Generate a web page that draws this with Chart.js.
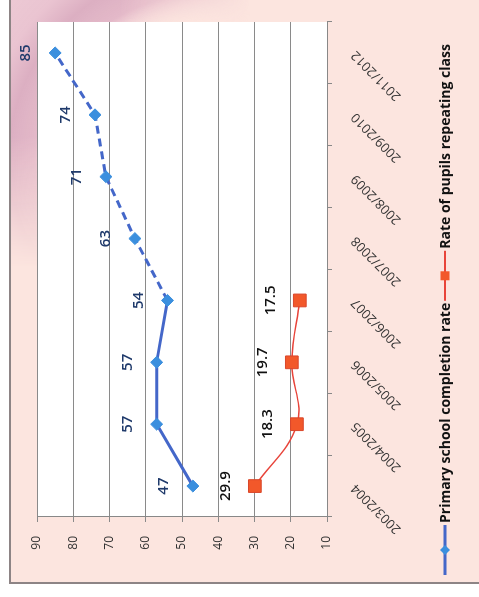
<!DOCTYPE html>
<html>
<head>
<meta charset="utf-8">
<script src="https://cdn.jsdelivr.net/npm/chart.js@4"></script>
<style>
html, body { margin: 0; padding: 0; background: #fff; overflow: hidden; }
#wrap { position: absolute; left: 0; top: 0; width: 597px; height: 479px;
  transform-origin: 0 0; transform: translateY(597px) rotate(-90deg); }
</style>
</head>
<body>
<div id="wrap"><canvas id="chart" width="597" height="479"></canvas></div>
<script>
// school years (2010/2011 is not in the source chart)
const years = ['2003/2004', '2004/2005', '2005/2006', '2006/2007', '2007/2008', '2008/2009', '2009/2010', '2011/2012']
const completionRate = [47, 57, 57, 54, 63, 71, 74, 85]
const repeatingRate = [29.9, 18.3, 19.7, 17.5, null, null, null, null]
const valueTicks = [10, 20, 30, 40, 50, 60, 70, 80, 90]
const seriesNames = ['Primary school completion rate', 'Rate of pupils repeating class']

const labelColors = ['#1f3a6b', '#111']
const FONT = '"Open Sans", Lato, sans-serif'

// pink panel, ring decoration and white plot area
const backdrop = {
  id: 'backdrop',
  beforeDraw(chart) {
    const ctx = chart.ctx, a = chart.chartArea
    const W = chart.width, H = chart.height
    ctx.save()
    ctx.fillStyle = '#fff'
    ctx.fillRect(0, 0, W, H)
    ctx.fillStyle = '#fce5df'
    ctx.fillRect(14, 10, W, H)

    // ring drawn offscreen and masked so it fades out
    const off = document.createElement('canvas')
    off.width = W; off.height = H
    const o = off.getContext('2d')
    const g = o.createRadialGradient(437, 200, 0, 437, 200, 330)
    g.addColorStop(0, 'rgba(240,205,215,0)')
    g.addColorStop(0.42, 'rgba(240,205,215,0)')
    g.addColorStop(0.5, 'rgba(226,182,199,0.95)')
    g.addColorStop(0.58, 'rgba(220,175,194,1)')
    g.addColorStop(0.66, 'rgba(234,196,209,1)')
    g.addColorStop(1, 'rgba(240,208,216,0.9)')
    o.fillStyle = g
    o.fillRect(0, 0, W, H)
    o.globalCompositeOperation = 'destination-in'
    const m1 = o.createLinearGradient(0, 120, 0, 250)
    m1.addColorStop(0, 'rgba(0,0,0,1)')
    m1.addColorStop(1, 'rgba(0,0,0,0)')
    o.fillStyle = m1
    o.fillRect(0, 0, W, H)
    const m2 = o.createLinearGradient(460, 0, 330, 0)
    m2.addColorStop(0, 'rgba(0,0,0,1)')
    m2.addColorStop(1, 'rgba(0,0,0,0)')
    o.fillStyle = m2
    o.fillRect(0, 0, W, H)
    ctx.beginPath()
    ctx.rect(15, 11, W, H)
    ctx.clip()
    ctx.drawImage(off, 0, 0)
    ctx.restore()

    ctx.save()
    ctx.strokeStyle = '#8d8485'
    ctx.lineWidth = 2
    ctx.beginPath()
    ctx.moveTo(14, H)
    ctx.lineTo(14, 10)
    ctx.lineTo(W, 10)
    ctx.stroke()
    ctx.fillStyle = '#fff'
    ctx.fillRect(a.left, a.top, a.right - a.left, a.bottom - a.top)
    ctx.restore()
  }
}

// value labels above the points
const valueLabels = {
  id: 'valueLabels',
  afterDatasetsDraw(chart) {
    const ctx = chart.ctx
    ctx.save()
    ctx.font = '600 15px ' + FONT
    ctx.textAlign = 'center'
    ctx.textBaseline = 'middle'
    chart.data.datasets.forEach((ds, i) => {
      const meta = chart.getDatasetMeta(i)
      ctx.fillStyle = labelColors[i]
      meta.data.forEach((pt, j) => {
        const v = ds.data[j]
        if (v == null) return
        ctx.fillText(String(v), pt.x, pt.y - 29)
      })
    })
    ctx.restore()
  }
}

// legend under the chart: line with marker, then name
const legendRow = {
  id: 'legendRow',
  afterDraw(chart) {
    const ctx = chart.ctx
    const y = 445
    let x = 22
    ctx.save()
    ctx.font = 'bold 14px ' + FONT
    ctx.textBaseline = 'middle'
    chart.data.datasets.forEach((ds, i) => {
      ctx.strokeStyle = ds.borderColor
      ctx.lineWidth = i === 0 ? 3 : 2
      ctx.setLineDash([])
      ctx.beginPath()
      ctx.moveTo(x, y)
      ctx.lineTo(x + 50, y)
      ctx.stroke()
      const cx = x + 25
      ctx.fillStyle = ds.pointBackgroundColor
      ctx.beginPath()
      if (i === 0) {
        ctx.moveTo(cx - 5, y); ctx.lineTo(cx, y - 5); ctx.lineTo(cx + 5, y); ctx.lineTo(cx, y + 5)
      } else {
        ctx.rect(cx - 4.5, y - 4.5, 9, 9)
      }
      ctx.closePath()
      ctx.fill()
      x += 52
      ctx.fillStyle = '#111'
      ctx.fillText(seriesNames[i], x, y + 1)
      x += ctx.measureText(seriesNames[i]).width + 2
    })
    ctx.restore()
  }
}

Chart.defaults.font.family = FONT

new Chart(document.getElementById('chart'), {
  type: 'line',
  data: {
    labels: years,
    datasets: [
      {
        label: seriesNames[0],
        data: completionRate,
        borderColor: '#4467c9',
        borderWidth: 3,
        pointStyle: 'rectRot',
        pointRadius: 6,
        pointBackgroundColor: '#3b8fde',
        pointBorderColor: '#3b8fde',
        pointBorderWidth: 1,
        tension: 0,
        segment: {
          borderDash: ctx => ctx.p0DataIndex >= 3 ? [8, 5] : undefined
        }
      },
      {
        label: seriesNames[1],
        data: repeatingRate,
        borderColor: '#e8443a',
        borderWidth: 1.5,
        pointStyle: 'rect',
        pointRadius: 9,
        pointBackgroundColor: '#f2582a',
        pointBorderColor: '#d9462a',
        pointBorderWidth: 1,
        tension: 0.4,
        spanGaps: false
      }
    ]
  },
  options: {
    responsive: false,
    animation: false,
    layout: { padding: { left: 0, right: 22, top: 37, bottom: 0 } },
    plugins: {
      legend: { display: false },
      tooltip: { enabled: false }
    },
    scales: {
      x: {
        offset: true,
        grid: { drawOnChartArea: false, tickLength: 5, color: '#888', offset: true },
        border: { color: '#888' },
        ticks: { minRotation: 45, maxRotation: 45, padding: 16, color: '#333', font: { size: 13 } },
        afterFit: s => { s.height = 152 }
      },
      y: {
        min: 10,
        max: 90,
        afterBuildTicks: s => { s.ticks = valueTicks.map(v => ({ value: v })) },
        grid: { color: '#8a8a8a', tickLength: 5 },
        border: { color: '#888' },
        ticks: { padding: 14, color: '#333', font: { size: 12 } },
        afterFit: s => { s.width = 80 }
      }
    }
  },
  plugins: [backdrop, valueLabels, legendRow]
})
</script>
</body>
</html>
